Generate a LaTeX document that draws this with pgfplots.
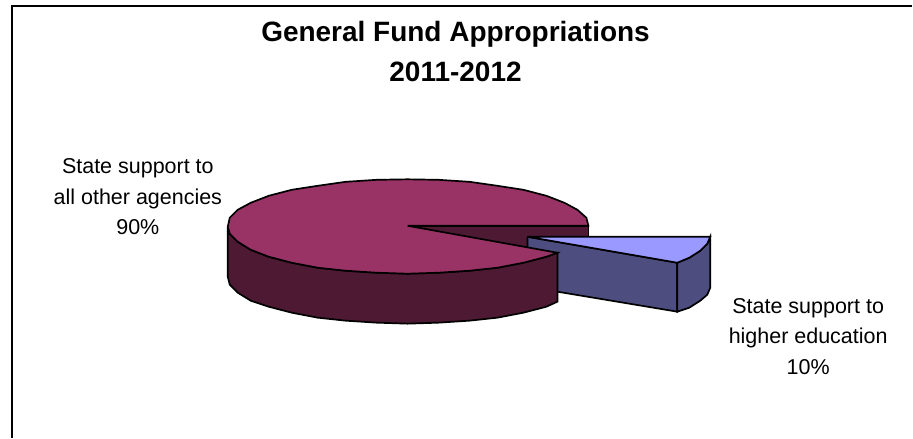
\documentclass[border=0pt]{standalone}
\usepackage{pgfplots}
\pgfplotsset{compat=1.18}
\usepackage{fontspec}
\setmainfont{Liberation Sans}
\definecolor{plum}{HTML}{993366}
\definecolor{plumdark}{HTML}{4D1933}
\definecolor{lilac}{HTML}{9999FF}
\definecolor{lilacdark}{HTML}{4D4D80}
\begin{document}
\begin{tikzpicture}
\begin{axis}[
    scale only axis, width=913pt, height=438pt,
    xmin=0, xmax=913, ymin=0, ymax=438, y dir=reverse,
    hide axis, clip=false,
  ]
  % keeps the page as large as the whole chart area
  \addplot[draw=none] coordinates {(0,0) (913,438)};
  % frame
  \addplot[black, line width=1.9pt] coordinates {(12,438) (12,6) (913,6)};
  % inner wall of the big slice
  \addplot[fill=plumdark, draw=black, line width=1.7pt] coordinates {(408,226) (589,226) (589,240) (528,240) (528,262) (408,262) (408,226)};
  % small slice, pulled out
  \addplot[fill=lilacdark, draw=black, line width=1.7pt] coordinates {(528,237) (678,263) (678,312) (528,287) (528,237)};
  \addplot[fill=lilacdark, draw=black, line width=1.7pt] coordinates {(678,263) (690,258) (701,251) (708,244) (711,237) (711,288) (708,295) (701,301) (690,308) (678,312) (678,263)};
  \addplot[fill=lilac, draw=black, line width=1.7pt] coordinates {(528,237) (711,237) (708,244) (701,251) (690,258) (678,263) (528,237)};
  % big slice, side
  \addplot[fill=plumdark, draw=black, line width=1.7pt] coordinates {(228,227) (228,277) (230,285) (238,293) (251,301) (269,307) (292,313) (318,318) (346,321) (377,323) (408,324) (439,323) (470,321) (498,318) (524,313) (547,307) (558,302) (558,253) (547,257) (524,263) (498,268) (470,271) (439,273) (408,274) (377,273) (346,271) (318,268) (292,263) (269,257) (251,250) (238,242) (230,234) (228,227)};
  % big slice, top
  \addplot[fill=plum, draw=black, line width=1.7pt] coordinates {(408,226) (589,226) (587,218) (578,210) (565,203) (547,196) (524,190) (498,186) (470,182) (439,180) (408,179.5) (377,180) (346,182) (318,186) (292,190) (269,196) (251,203) (238,210) (230,218) (228,227) (230,234) (238,242) (251,250) (269,257) (292,263) (318,268) (346,271) (377,273) (408,274) (439,273) (470,271) (498,268) (524,263) (547,257) (558,253) (408,226)};
  % text
  \node[align=center, font=\bfseries\fontsize{28}{40}\selectfont] at (axis cs:456,52) {General Fund Appropriations\\2011-2012};
  \node[align=center, font=\fontsize{21.5}{30.5}\selectfont] at (axis cs:138,197) {State support to\\all other agencies\\90\%};
  \node[align=center, font=\fontsize{21.5}{30.5}\selectfont] at (axis cs:809,336.5) {State support to\\higher education\\10\%};
\end{axis}
\end{tikzpicture}
\end{document}
